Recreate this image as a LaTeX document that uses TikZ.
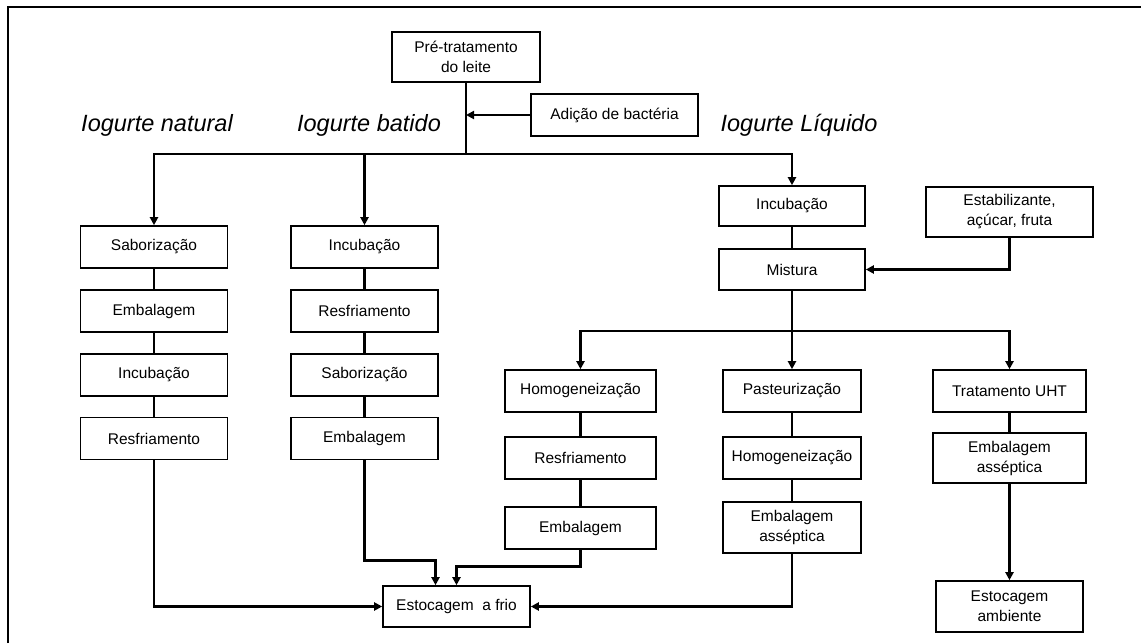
\documentclass[tikz,border=0pt]{standalone}
\usepackage{fontspec}
\setmainfont{Liberation Sans}
\usetikzlibrary{arrows.meta,calc}
\begin{document}
\begin{tikzpicture}[x=1pt,y=-1pt,
  stepbox/.style={draw, line width=1.6pt, inner sep=0pt, align=center,
    font=\fontsize{15.5}{20}\selectfont, minimum height=42pt},
  branchlabel/.style={font=\fontsize{23.5}{28}\selectfont\itshape, inner sep=0pt},
  link/.style={line width=2.6pt},
  flow/.style={line width=2.6pt, -{Triangle[length=8pt,width=8pt]}}]
\useasboundingbox (0,0) rectangle (1141,643);
% outer frame
\draw[line width=2pt] (8,643) -- (8,7) -- (1141,7);

% top of the process
\node[stepbox, minimum width=148pt, minimum height=50pt] (pre) at (466,57) {Pré-tratamento\\do leite};
\node[stepbox, minimum width=167pt] (adi) at (614.5,115) {Adição de bactéria};
\node[branchlabel] (ln) at (157,125) {Iogurte natural};
\node[branchlabel] (lb) at (369,125) {Iogurte batido};
\node[branchlabel] (ll) at (799,125) {Iogurte Líquido};

% natural
\node[stepbox, minimum width=147pt] (L1) at (154,247) {Saborização};
\node[stepbox, minimum width=147pt] (L2) at (154,311) {Embalagem};
\node[stepbox, minimum width=147pt] (L3) at (154,375) {Incubação};
\node[stepbox, minimum width=147pt] (L4) at (154,438.5) {Resfriamento};

% batido
\node[stepbox, minimum width=147pt] (B1) at (364.5,247) {Incubação};
\node[stepbox, minimum width=147pt] (B2) at (364.5,311) {Resfriamento};
\node[stepbox, minimum width=147pt] (B3) at (364.5,375) {Saborização};
\node[stepbox, minimum width=147pt] (B4) at (364.5,438.5) {Embalagem};

% liquido
\node[stepbox, minimum width=146pt, minimum height=40pt] (inc) at (792,206) {Incubação};
\node[stepbox, minimum width=146pt, minimum height=41pt] (mix) at (792,269.5) {Mistura};
\node[stepbox, minimum width=167pt, minimum height=50pt] (est) at (1009.5,212) {Estabilizante,\\açúcar, fruta};

\node[stepbox, minimum width=151pt] (H1) at (580.5,391) {Homogeneização};
\node[stepbox, minimum width=151pt] (H2) at (580.5,458) {Resfriamento};
\node[stepbox, minimum width=151pt] (H3) at (580.5,528) {Embalagem};

\node[stepbox, minimum width=138pt] (P1) at (792,391) {Pasteurização};
\node[stepbox, minimum width=138pt] (P2) at (792,458) {Homogeneização};
\node[stepbox, minimum width=138pt, minimum height=51pt] (P3) at (792,527.5) {Embalagem\\asséptica};

\node[stepbox, minimum width=153pt] (U1) at (1009.5,391) {Tratamento UHT};
\node[stepbox, minimum width=153pt, minimum height=50pt] (U2) at (1009.5,458) {Embalagem\\asséptica};
\node[stepbox, minimum width=147pt, minimum height=51pt] (U3) at (1009.5,606.5) {Estocagem\\ambiente};

\node[stepbox, minimum width=147pt, minimum height=41pt] (frio) at (456.5,606.5) {Estocagem~ a frio};

% branching points
\coordinate (j1) at (pre.south |- 0,154);
\coordinate (j2) at (mix.south |- 0,331);

% connectors
\draw[link] (pre.south) -- (j1);
\draw[flow] (adi.west) -- (adi.west -| pre.south);
\draw[flow] (j1) -| (L1.north);
\draw[flow] (j1) -| (B1.north);
\draw[flow] (j1) -| (inc.north);

\draw[link] (L1) -- (L2) -- (L3) -- (L4);
\draw[link] (B1) -- (B2) -- (B3) -- (B4);
\draw[link] (inc) -- (mix);
\draw[flow] (est.south) |- (mix.east);

\draw[link] (mix.south) -- (j2);
\draw[flow] (j2) -| (H1.north);
\draw[flow] (j2) -- (P1.north);
\draw[flow] (j2) -| (U1.north);

\draw[link] (H1) -- (H2) -- (H3);
\draw[link] (P1) -- (P2) -- (P3);
\draw[link] (U1) -- (U2);
\draw[flow] (U2.south) -- (U3.north);

\draw[flow] (L4.south) |- (frio.west);
\draw[flow] (B4.south) |- ([xshift=-21pt,yshift=25pt]frio.north) -- ([xshift=-21pt]frio.north);
\draw[flow] (H3.south) |- ([yshift=19pt]frio.north) -- (frio.north);
\draw[flow] (P3.south) |- (frio.east);
\end{tikzpicture}
\end{document}
